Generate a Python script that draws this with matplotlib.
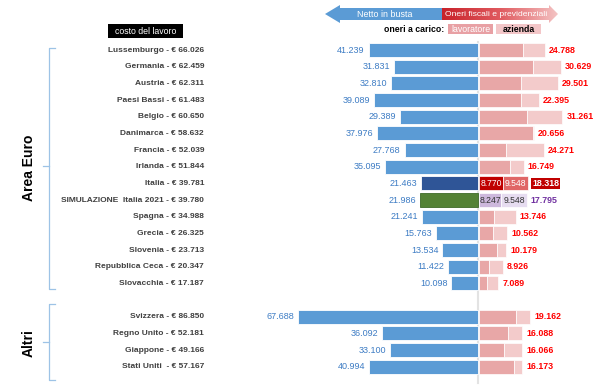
import matplotlib
matplotlib.use("Agg")
import matplotlib.pyplot as plt
import numpy as np
from matplotlib.patches import Polygon, Rectangle
from matplotlib.colors import LinearSegmentedColormap

plt.rcParams['font.family'] = ['Liberation Sans', 'DejaVu Sans']

countries = ["Lussemburgo", "Germania", "Austria", "Paesi Bassi", "Belgio", "Danimarca",
             "Francia", "Irlanda", "Italia", "SIMULAZIONE  Italia 2021", "Spagna", "Grecia",
             "Slovenia", "Repubblica Ceca", "Slovacchia", "Svizzera", "Regno Unito",
             "Giappone", "Stati Uniti "]
costo = [66026, 62459, 62311, 61483, 60650, 58632, 52039, 51844, 39781, 39780, 34988,
         26325, 23713, 20347, 17187, 86850, 52181, 49166, 57167]
netto = [41239, 31831, 32810, 39089, 29389, 37976, 27768, 35095, 21463, 21986, 21241,
         15763, 13534, 11422, 10098, 67688, 36092, 33100, 40994]
oneri = [24788, 30629, 29501, 22395, 31261, 20656, 24271, 16749, 18318, 17795, 13746,
         10562, 10179, 8926, 7089, 19162, 16088, 16066, 16173]
lavoratore = [16560, 20070, 15680, 15680, 18070, 20300, 10040, 11540, 8770, 8247, 5520,
              5140, 6520, 3640, 2890, 13930, 10920, 9410, 13170]
azienda = [8228, 10559, 13821, 6715, 13191, 356, 14231, 5209, 9548, 9548, 8226,
           5422, 3659, 5286, 4199, 5232, 5168, 6656, 3003]
rows = [0, 1, 2, 3, 4, 5, 6, 7, 8, 9, 10, 11, 12, 13, 14, 16, 17, 18, 19]

def fmt(v):
    return f"{v:,}".replace(",", ".")

W, H = 600, 391
fig = plt.figure(figsize=(W / 100, H / 100), dpi=100)
ax = fig.add_axes([0, 0, 1, 1])
ppu = 0.002657  # px per euro
x0 = 478.3
ax.set_xlim(-x0 / ppu, (W - x0) / ppu)
step = 16.67
ax.set_ylim((H - 50) / step, -50 / step)
ax.axis('off')

BLUE = '#5B9BD5'
PINK1 = '#E8A7A7'
PINK2 = '#F3CBCB'

ax.plot([0, 0], [-0.5, 19.95], color='#E3E3E3', lw=1.5, zorder=0)

bh = 0.84
gap = 400
for i, r in enumerate(rows):
    nc, c1, c2 = BLUE, PINK1, PINK2
    ec = 'white'
    if i == 8:
        nc, c1, c2 = '#2F5597', '#C00000', '#E06666'
    elif i == 9:
        nc, c1, c2 = '#548235', '#CDB8DC', '#E6DCF0'
        ec = '#3E6A28'
    ax.barh(r, -netto[i], height=bh, color=nc, edgecolor=ec, lw=0.6, zorder=2)
    ax.barh(r, lavoratore[i], height=bh, left=gap, color=c1, edgecolor='white', lw=0.5, zorder=2)
    ax.barh(r, azienda[i], left=gap + lavoratore[i], height=bh, color=c2,
            edgecolor='white', lw=0.5, zorder=2)
    ax.text(-netto[i] - 1500, r, fmt(netto[i]), ha='right', va='center',
            fontsize=6.5, color='#3D7CC4', zorder=3)
    tx = oneri[i] + gap + 1500
    if i == 8:
        ax.text(tx, r, fmt(oneri[i]), ha='left', va='center', fontsize=6.4, color='white',
                weight='bold', zorder=3,
                bbox=dict(boxstyle='square,pad=0.12', fc='#C00000', ec='none'))
        ax.text(gap + lavoratore[i] / 2, r, fmt(lavoratore[i]), ha='center', va='center',
                fontsize=6.2, color='white', zorder=3)
        ax.text(gap + lavoratore[i] + azienda[i] / 2, r, fmt(azienda[i]), ha='center',
                va='center', fontsize=6.2, color='white', zorder=3)
    elif i == 9:
        ax.text(tx, r, fmt(oneri[i]), ha='left', va='center', fontsize=6.4, color='#7030A0',
                weight='bold', zorder=3)
        ax.text(gap + lavoratore[i] / 2, r, fmt(lavoratore[i]), ha='center', va='center',
                fontsize=6.2, color='#333333', zorder=3)
        ax.text(gap + lavoratore[i] + azienda[i] / 2, r, fmt(azienda[i]), ha='center',
                va='center', fontsize=6.2, color='#333333', zorder=3)
    else:
        ax.text(tx, r, fmt(oneri[i]), ha='left', va='center', fontsize=6.4, color='#FF0000',
                weight='bold', zorder=3)
    ax.text(204 / W, r, f"{countries[i]} - € {fmt(costo[i])}", transform=ax.get_yaxis_transform(),
            ha='right', va='center', fontsize=6.0, color='#404040', weight='bold')

# decoration overlay in pixel coordinates
d = fig.add_axes([0, 0, 1, 1], zorder=5)
d.axis('off')
d.patch.set_alpha(0)

BR = '#9DC3E6'
def bracket(y0, y1, ym):
    d.plot([55, 49, 49, 55], [y0, y0, y1, y1], color=BR, lw=0.9)
    d.plot([43, 49], [ym, ym], color=BR, lw=0.9)

bracket(48, 289, 166)
bracket(304, 380, 342)
d.text(29, 168, "Area Euro", rotation=90, ha='center', va='center', fontsize=10,
       weight='bold', color='black')
d.text(29, 343, "Altri", rotation=90, ha='center', va='center', fontsize=10,
       weight='bold', color='black')

d.add_patch(Rectangle((108, 24), 75, 14, fc='black', ec='none'))
d.text(145.5, 31, "costo del lavoro", ha='center', va='center', fontsize=6.3, color='white')

d.add_patch(Polygon([(442, 8), (340, 8), (340, 5), (325, 14), (340, 23), (340, 20), (442, 20)],
                    closed=True, fc=BLUE, ec='none'))
d.text(385, 14.5, "Netto in busta", ha='center', va='center', fontsize=6.4, color='white')
rpoly = Polygon([(442, 8), (549, 8), (549, 5), (558, 14), (549, 23), (549, 20), (442, 20)],
                closed=True, fc='none', ec='none')
d.add_patch(rpoly)
grad = np.linspace(0, 1, 256)[None, :]
cm = LinearSegmentedColormap.from_list('g', ['#C8222A', '#E05A5F', '#F4C4C4'])
im = d.imshow(grad, extent=[442, 558, 23, 5], aspect='auto', cmap=cm, zorder=1)
im.set_clip_path(rpoly)
d.text(496, 14.5, "Oneri fiscali e previdenziali", ha='center', va='center', fontsize=6.1,
       color='white', zorder=2)
d.set_xlim(0, W)
d.set_ylim(H, 0)

d.text(444, 29, "oneri a carico:", ha='right', va='center', fontsize=6.3, weight='bold',
       color='black')
d.add_patch(Rectangle((448, 23.5), 45, 10.5, fc='#E8A0A4', ec='none'))
d.text(470.5, 29, "lavoratore", ha='center', va='center', fontsize=6.3, color='white')
d.add_patch(Rectangle((496, 23.5), 45, 10.5, fc='#F3C6C8', ec='none'))
d.text(518.5, 29, "azienda", ha='center', va='center', fontsize=6.3, color='black',
       weight='bold')

fig.savefig("out.png", dpi=100)
